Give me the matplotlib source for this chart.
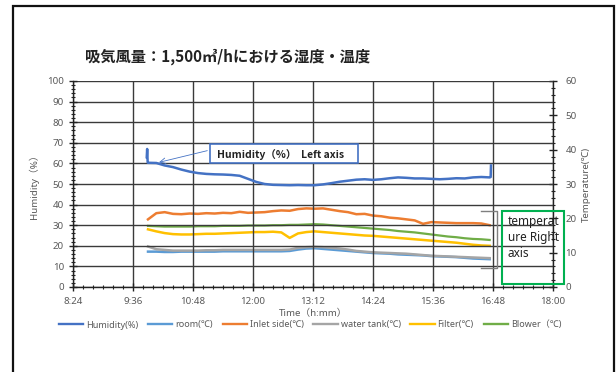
import matplotlib
matplotlib.use("Agg")
import matplotlib.pyplot as plt
from matplotlib.ticker import MultipleLocator, FuncFormatter
from matplotlib.patches import Rectangle
from matplotlib.lines import Line2D

plt.rcParams['font.family'] = ['Noto Sans', 'Noto Sans CJK JP', 'DejaVu Sans']

# ---------------- data ----------------
title = "吸気風量：1,500㎥/hにおける湿度・温度"

# sample times in minutes after midnight
times = [594, 604, 614, 624, 634, 644, 654, 664, 674, 684, 694, 704, 714, 724,
         734, 744, 754, 764, 774, 784, 794, 804, 814, 824, 834, 844, 854, 864,
         874, 884, 894, 904, 914, 924, 934, 944, 954, 964, 974, 984, 994, 1004]

hum_times = [592.5, 593.0, 593.6] + times + [1005.2, 1005.6]
humidity = [63.0, 67.0, 60.5,
            60.3, 60.2, 59.0, 58.2, 57.0, 56.0, 55.3, 54.9, 54.7, 54.6, 54.4, 54.0,
            52.5, 51.0, 50.0, 49.6, 49.5, 49.4, 49.5, 49.4, 49.4, 49.8, 50.4, 51.1,
            51.6, 52.1, 52.3, 52.0, 52.3, 52.8, 53.2, 53.0, 52.7, 52.7, 52.5, 52.3,
            52.5, 52.8, 52.7, 53.2, 53.4, 53.2,
            53.4, 59.0]

room = [10.3, 10.3, 10.2, 10.2, 10.3, 10.3, 10.3, 10.3, 10.3, 10.4, 10.4, 10.4,
        10.4, 10.4, 10.4, 10.4, 10.4, 10.5, 10.9, 11.2, 11.3, 11.1, 10.9, 10.7,
        10.5, 10.3, 10.1, 9.9, 9.8, 9.7, 9.5, 9.4, 9.3, 9.2, 9.0, 8.9, 8.8, 8.7,
        8.5, 8.3, 8.2, 8.1]

inlet = [19.7, 21.5, 21.8, 21.3, 21.2, 21.4, 21.3, 21.5, 21.4, 21.6, 21.5, 21.9,
         21.6, 21.7, 21.8, 22.1, 22.3, 22.2, 22.7, 22.9, 22.8, 22.9, 22.5, 22.1,
         21.8, 21.2, 21.3, 20.8, 20.6, 20.2, 20.0, 19.7, 19.4, 18.4, 18.9, 18.8,
         18.7, 18.6, 18.6, 18.6, 18.5, 18.0]

water_tank = [11.8, 11.0, 10.8, 10.6, 10.6, 10.6, 10.6, 10.7, 10.7, 10.8, 10.8,
              10.8, 10.8, 10.8, 10.8, 10.8, 10.8, 10.9, 11.4, 11.6, 11.7, 11.6,
              11.4, 11.2, 10.9, 10.5, 10.3, 10.1, 10.0, 9.9, 9.8, 9.7, 9.5, 9.3,
              9.1, 9.0, 8.9, 8.8, 8.7, 8.6, 8.5, 8.4]

filter_t = [16.8, 16.2, 15.7, 15.4, 15.3, 15.3, 15.4, 15.5, 15.5, 15.6, 15.7,
            15.8, 15.9, 16.0, 16.0, 16.1, 15.9, 14.3, 15.6, 16.0, 16.2, 16.0,
            15.8, 15.6, 15.4, 15.2, 15.0, 14.9, 14.7, 14.5, 14.3, 14.1, 13.9,
            13.7, 13.5, 13.3, 13.1, 12.9, 12.6, 12.3, 12.1, 12.0]

blower = [17.8, 17.7, 17.6, 17.6, 17.6, 17.6, 17.7, 17.7, 17.7, 17.8, 17.8, 17.8,
          17.9, 17.9, 17.9, 18.0, 18.0, 18.1, 18.1, 18.2, 18.3, 18.2, 18.0, 17.8,
          17.6, 17.4, 17.2, 17.0, 16.8, 16.6, 16.3, 16.1, 15.9, 15.6, 15.3, 15.0,
          14.7, 14.5, 14.2, 14.0, 13.9, 13.7]

labels = ["Humidity(%)", "room(℃)", "Inlet side(℃)", "water tank(℃)",
          "Filter(℃)", "Blower（℃)"]
colors = ["#4472C4", "#5B9BD5", "#ED7D31", "#A5A5A5", "#FFC000", "#70AD47"]

# ---------------- figure ----------------
W, H = 616, 372
fig = plt.figure(figsize=(W / 100, H / 100), dpi=100)

def fx(px):
    return px / W

def fy(py):
    return 1 - py / H

ax = fig.add_axes([fx(73), fy(287), fx(553) - fx(73), fy(81) - fy(287)])
ax2 = ax.twinx()

tick_col = "#595959"
grid_col = "#3a3a3a"

ax.set_xlim(504, 1080)
ax.set_ylim(0, 100)
ax2.set_ylim(0, 60)
ax.xaxis.set_major_locator(MultipleLocator(72))
ax.xaxis.set_minor_locator(MultipleLocator(12))
ax.yaxis.set_major_locator(MultipleLocator(10))
ax.yaxis.set_minor_locator(MultipleLocator(2))
ax2.yaxis.set_major_locator(MultipleLocator(10))
ax2.yaxis.set_minor_locator(MultipleLocator(2))
ax.xaxis.set_major_formatter(FuncFormatter(lambda m, p: f"{int(m // 60)}:{int(round(m % 60)):02d}"))
ax.grid(True, which='major', color=grid_col, linewidth=1.0)
ax.set_axisbelow(True)

for a in (ax, ax2):
    a.spines['top'].set_visible(False)
    for s in a.spines.values():
        s.set_color('#222222')
        s.set_linewidth(1.0)
ax2.spines['left'].set_visible(False)
ax2.spines['bottom'].set_visible(False)
ax.spines['right'].set_visible(False)

ax.tick_params(axis='both', which='major', labelsize=7, labelcolor=tick_col,
               color='#222222', direction='inout', length=6, width=1.0)
ax.tick_params(axis='both', which='minor', color='#222222', direction='inout',
               length=3, width=0.8)
ax2.tick_params(axis='y', which='major', labelsize=7, labelcolor=tick_col,
                color='#222222', direction='inout', length=6, width=1.0, pad=6)
ax2.tick_params(axis='y', which='minor', color='#222222', direction='inout',
                length=3, width=0.8)
ax.tick_params(axis='x', which='major', pad=4)

# series
h1, = ax.plot(hum_times, humidity, color=colors[0], linewidth=1.8, label=labels[0])
h2, = ax2.plot(times, room, color=colors[1], linewidth=1.8, label=labels[1])
h3, = ax2.plot(times, inlet, color=colors[2], linewidth=1.8, label=labels[2])
h4, = ax2.plot(times, water_tank, color=colors[3], linewidth=1.8, label=labels[3])
h5, = ax2.plot(times, filter_t, color=colors[4], linewidth=1.8, label=labels[4])
h6, = ax2.plot(times, blower, color=colors[5], linewidth=1.6, label=labels[5])
ax.set_zorder(ax2.get_zorder() + 1)
ax.patch.set_visible(False)

# labels
ax.set_ylabel("Humidity（%）", fontsize=7, color=tick_col, labelpad=6)
ax2.set_ylabel("Temperature(℃)", fontsize=7, color=tick_col, labelpad=4)
ax.set_xlabel("Time（h:mm）", fontsize=7, color=tick_col, labelpad=2)

fig.text(fx(85), fy(57), title, fontsize=11, fontweight='bold', color='#222222',
         family=['Noto Sans CJK JP', 'DejaVu Sans'], va='center', ha='left')

leg = fig.legend(handles=[h1, h2, h3, h4, h5, h6], loc='center',
                 bbox_to_anchor=(fx(310), fy(325)), ncol=6, frameon=False,
                 fontsize=6.5, handlelength=2.7, handletextpad=0.3,
                 columnspacing=1.1, labelcolor=tick_col)
for ln in leg.get_lines():
    ln.set_linewidth(1.7)

# annotation: humidity left axis
fig.patches.append(Rectangle((fx(210), fy(163)), fx(358) - fx(210), fy(144) - fy(163),
                             transform=fig.transFigure, facecolor='white',
                             edgecolor='#4472C4', linewidth=1.2, zorder=10))
fig.text(fx(217), fy(155), "Humidity（%）  Left axis", fontsize=7.5, fontweight='bold',
         family=['Noto Sans CJK JP', 'DejaVu Sans'],
         color='#222222', va='center', ha='left', zorder=11)
ax.annotate("", xy=(604, 60.2), xycoords='data',
            xytext=(fx(210), fy(150)), textcoords='figure fraction',
            arrowprops=dict(arrowstyle='->', color='#4472C4', lw=0.6))

# bracket near temperature lines
fig.lines.append(Line2D([fx(481), fx(497), fx(497), fx(481)],
                        [fy(211), fy(211), fy(268), fy(268)],
                        transform=fig.transFigure, color='#7f7f7f', linewidth=1.0))

# green box: temperature right axis
fig.patches.append(Rectangle((fx(502), fy(284)), fx(564) - fx(502), fy(211) - fy(284),
                             transform=fig.transFigure, facecolor='none',
                             edgecolor='#00B050', linewidth=1.5, zorder=10))
fig.text(fx(508), fy(215), "temperat\nure Right\naxis", fontsize=8.5, color='#222222',
         va='top', ha='left', linespacing=1.3, zorder=11)

# outer frame
fig.patches.append(Rectangle((fx(13), -0.05), fx(614) - fx(13), fy(6) + 0.05,
                             transform=fig.transFigure, facecolor='none',
                             edgecolor='#111111', linewidth=1.6, clip_on=False))

fig.savefig("out.png", dpi=100)
